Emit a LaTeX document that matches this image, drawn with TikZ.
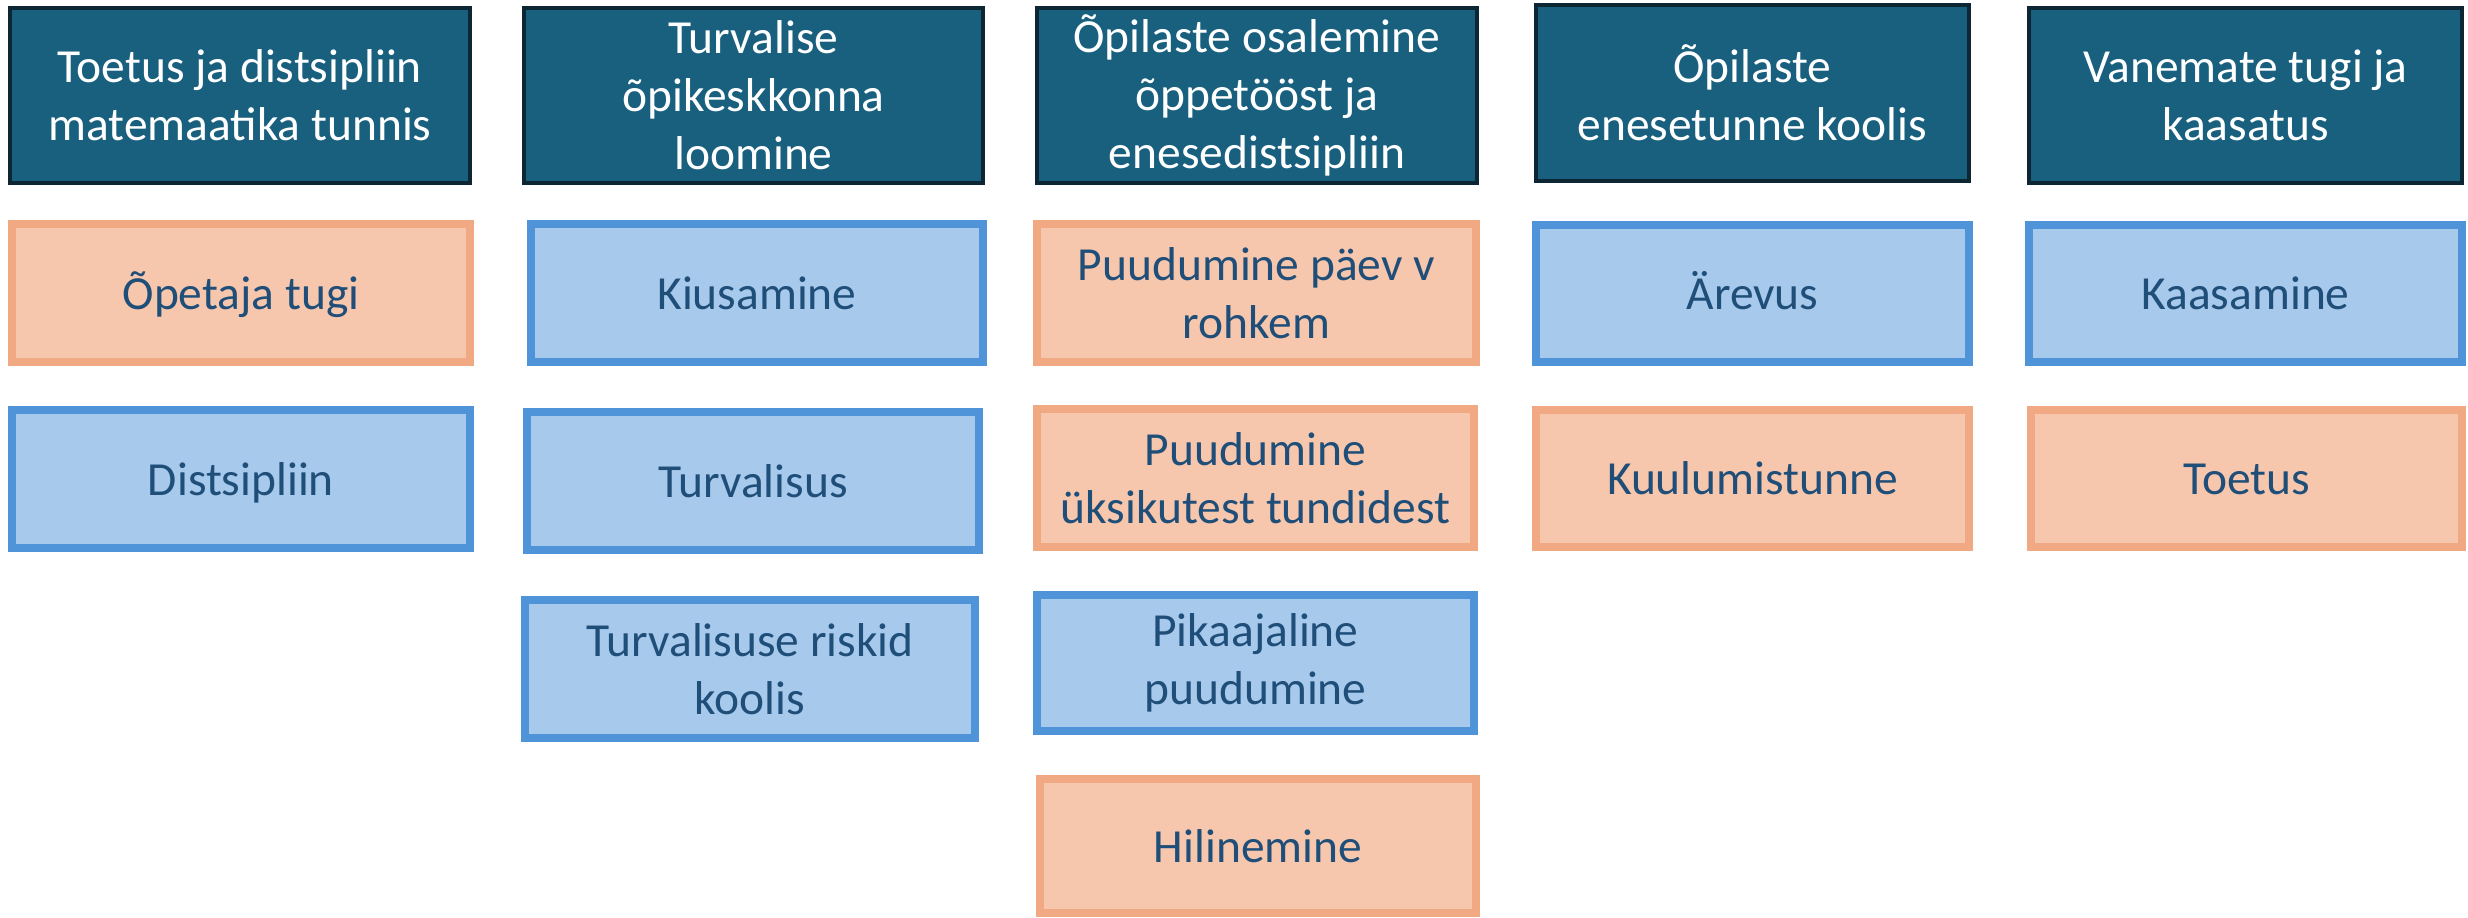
\documentclass[tikz,border=0pt]{standalone}
\usepackage{fontspec}
\setmainfont{Carlito}

\definecolor{hdrfill}{HTML}{19607F}
\definecolor{hdrline}{HTML}{0C2634}
\definecolor{bfill}{HTML}{A7C9EB}
\definecolor{bline}{HTML}{4F94D8}
\definecolor{ofill}{HTML}{F6C6AD}
\definecolor{oline}{HTML}{F1A983}
\definecolor{txtblue}{HTML}{1F4E79}

\tikzset{
  hdr/.style={draw=hdrline,fill=hdrfill,line width=0.04cm,text=white,align=center,
    inner sep=0pt,minimum height=1.75cm,font=\fontsize{13.5}{16.5}\selectfont},
  bluebox/.style={draw=bline,fill=bfill,line width=0.08cm,text=txtblue,align=center,
    inner sep=0pt,minimum height=1.38cm,font=\fontsize{13.5}{16.5}\selectfont},
  orangebox/.style={draw=oline,fill=ofill,line width=0.08cm,text=txtblue,align=center,
    inner sep=0pt,minimum height=1.38cm,font=\fontsize{13.5}{16.5}\selectfont},
  oneline/.style={text height=0.32cm,text depth=0pt}
}

\begin{document}
\begin{tikzpicture}[x=0.01cm,y=-0.01cm]

\useasboundingbox (0,0) rectangle (2468,917);

% column 1
\node[hdr,minimum width=4.60cm]       (h1) at (240,95.5) {Toetus ja distsipliin\\matemaatika tunnis};
\node[orangebox,oneline,minimum width=4.58cm] (tugi) at (241,293) {Õpetaja tugi};
\node[bluebox,oneline,minimum width=4.58cm]   (distsipliin) at (241,479) {Distsipliin};

% column 2
\node[hdr,minimum width=4.59cm]       (h2) at (753.5,95.5) {Turvalise\\õpikeskkonna\\loomine};
\node[bluebox,oneline,minimum width=4.52cm]   (kiusamine) at (757,293) {Kiusamine};
\node[bluebox,oneline,minimum width=4.52cm]   (turvalisus) at (753,481) {Turvalisus};
\node[bluebox,minimum width=4.50cm]   (riskid) at (750,669) {Turvalisuse riskid\\koolis};

% column 3
\node[hdr,minimum width=4.40cm]       (h3) at (1257,95.5) {Õpilaste osalemine\\õppetööst ja\\enesedistsipliin};
\node[orangebox,minimum width=4.39cm] (paev) at (1256.5,293) {Puudumine päev v\\rohkem};
\node[orangebox,minimum width=4.37cm] (tunnid) at (1255.5,478) {Puudumine\\üksikutest tundidest};
\node[bluebox,minimum width=4.37cm,minimum height=1.36cm] (pikaajaline) at (1255.5,663) {Pikaajaline\\puudumine};
\node[orangebox,oneline,minimum width=4.36cm,minimum height=1.34cm] (hilinemine) at (1258,846) {Hilinemine};

% column 4
\node[hdr,minimum width=4.33cm]       (h4) at (1752.5,93) {Õpilaste\\enesetunne koolis};
\node[bluebox,oneline,minimum width=4.33cm,minimum height=1.37cm]   (arevus) at (1752.5,293.5) {Ärevus};
\node[orangebox,oneline,minimum width=4.33cm,minimum height=1.37cm] (kuulumine) at (1752.5,478.5) {Kuulumistunne};

% column 5
\node[hdr,minimum width=4.33cm]       (h5) at (2245.5,95.5) {Vanemate tugi ja\\kaasatus};
\node[bluebox,oneline,minimum width=4.33cm,minimum height=1.37cm]   (kaasamine) at (2245.5,293.5) {Kaasamine};
\node[orangebox,oneline,minimum width=4.31cm,minimum height=1.37cm] (toetus) at (2246.5,478.5) {Toetus};

\end{tikzpicture}
\end{document}
